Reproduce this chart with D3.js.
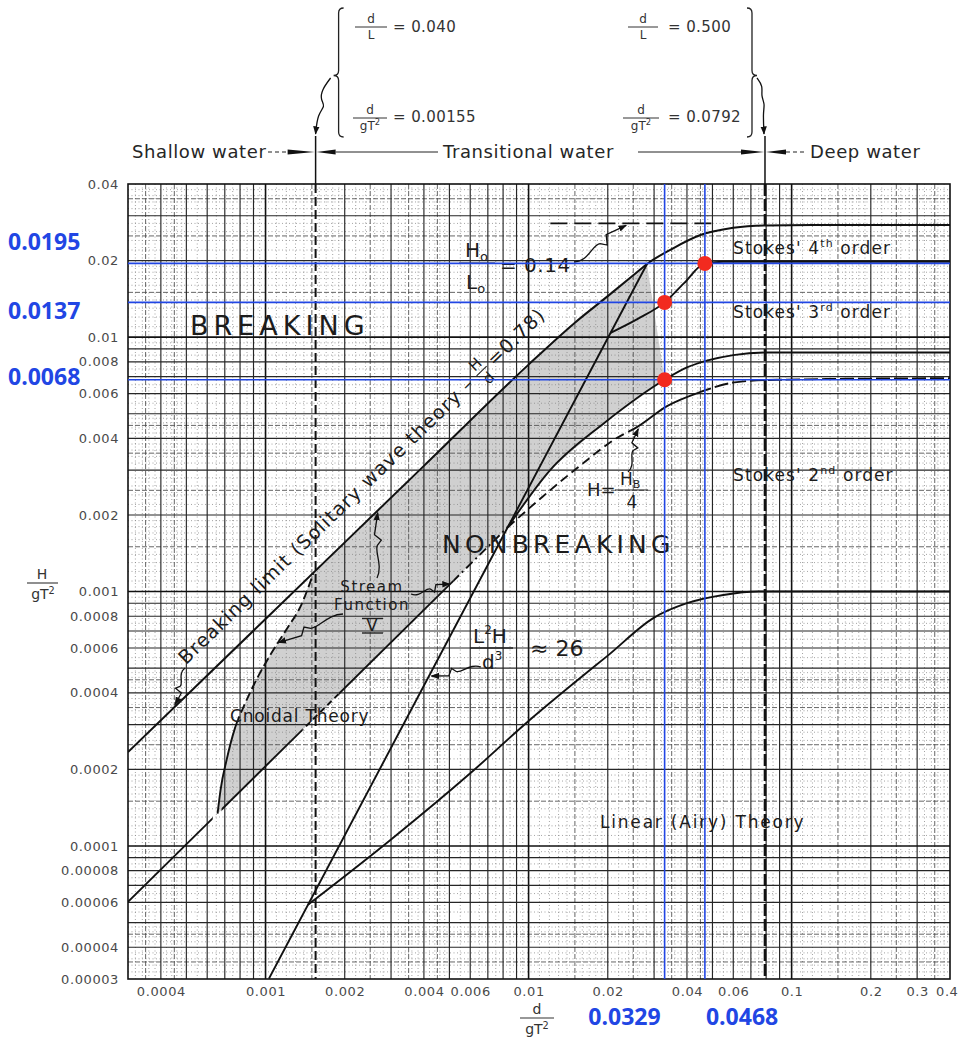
<!DOCTYPE html>
<html>
<head>
<meta charset="utf-8">
<title>Ranges of suitability of various wave theories</title>
<script src="https://cdn.jsdelivr.net/npm/d3@7/dist/d3.min.js"></script>
<style>
  html, body { margin: 0; padding: 0; background: #fff; }
  svg { display: block; }
  text { font-family: "DejaVu Sans", "Liberation Sans", sans-serif; }
</style>
</head>
<body>
<svg id="chart" width="960" height="1041"></svg>
<script>
// ---------- Axis ticks ----------
const xTickValues = [0.0004, 0.001, 0.002, 0.004, 0.006, 0.01, 0.02, 0.04, 0.06, 0.1, 0.2, 0.3, 0.4];
const yTickValues = [0.04, 0.02, 0.01, 0.008, 0.006, 0.004, 0.002, 0.001, 0.0008, 0.0006, 0.0004,
                     0.0002, 0.0001, 0.00008, 0.00006, 0.00004, 0.00003];

// ---------- Depth regimes (d/gT²) ----------
const shallowLimit = 0.00155;
const deepLimit = 0.0792;

// ---------- Boundary curves, points are [d/gT², H/gT²] ----------
const breakingLimit = [
  [0.0003, 0.000234], [0.001, 0.00078], [0.004, 0.00312], [0.01, 0.0078],
  [0.015, 0.0114], [0.02, 0.0145], [0.025, 0.0175], [0.0282, 0.0194],
  [0.035, 0.0222], [0.045, 0.0252], [0.06, 0.0269], [0.08, 0.0275],
  [0.12, 0.0276], [0.4, 0.0276]
];
const steepnessLimit = [[0.0121, 0.028], [0.0525, 0.028]];          // H0/L0 = 0.14
const ursellLine = [[0.00103, 0.0000301], [0.00833, 0.00179], [0.0282, 0.0194]];
const stokes4Lower = [
  [0.0205, 0.0104], [0.026, 0.0118], [0.0329, 0.0137], [0.039, 0.0163],
  [0.0468, 0.0195], [0.055, 0.0198], [0.4, 0.0198]
];
const stokes3Lower = [
  [0.00833, 0.00179], [0.0121, 0.00301], [0.0194, 0.0046], [0.0329, 0.0068],
  [0.04, 0.0076], [0.048, 0.0081], [0.06, 0.0085], [0.08, 0.0087], [0.4, 0.0087]
];
const quarterBreaking = [
  [0.00833, 0.00179], [0.0113, 0.00236], [0.0153, 0.00306], [0.0217, 0.00402],
  [0.0259, 0.00444], [0.0336, 0.00536], [0.0448, 0.00608], [0.0619, 0.00666],
  [0.0878, 0.0068], [0.4, 0.0069]
];
const linearLimit = [
  [0.00145, 0.0000587], [0.003, 0.000106], [0.006, 0.000193], [0.01, 0.00031],
  [0.015, 0.00044], [0.02, 0.00056], [0.03, 0.00079], [0.04, 0.0009],
  [0.055, 0.00097], [0.075, 0.001], [0.4, 0.001]
];
const cnoidalLower = [[0.0003, 0.0000603], [0.00833, 0.00179]];
const cnoidalUpper = [
  [0.000657, 0.000134], [0.000675, 0.000167], [0.000712, 0.000219], [0.000763, 0.000288],
  [0.000833, 0.00036], [0.000925, 0.000452], [0.001045, 0.000566], [0.001201, 0.00071],
  [0.001369, 0.000889], [0.00152, 0.00118]
];

// ---------- Read-off values ----------
const readX = [0.0329, 0.0468];
const readY = [0.0195, 0.0137, 0.0068];
const readPoints = [[0.0468, 0.0195], [0.0329, 0.0137], [0.0329, 0.0068]];

// ---------- Grid multipliers ----------
const majorSteps = [1, 2, 3, 4, 5, 6, 7, 8, 9];
const halfSteps = [1.5, 2.5, 3.5, 4.5];
const fineSteps = [1.1, 1.2, 1.3, 1.4, 1.6, 1.7, 1.8, 1.9, 2.2, 2.4, 2.6, 2.8, 3.2, 3.4, 3.6, 3.8,
                   4.2, 4.4, 4.6, 4.8, 5.5, 6.5, 7.5, 8.5, 9.5];

// ================= drawing =================
const svg = d3.select("#chart");
const defs = svg.append("defs");
const BLUE = "#2146e4";
const INK = "#111";
const TEXT = "#1c1c1c";

const x = d3.scaleLog().domain([0.0003, 0.4]).range([128, 950]);
const y = d3.scaleLog().domain([0.00003, 0.04]).range([979, 184]);
const [plotLeft, plotRight] = x.range();
const [plotBottom, plotTop] = y.range();

svg.append("rect").attr("width", 960).attr("height", 1041).attr("fill", "#fff");

defs.append("clipPath").attr("id", "plot-clip").append("rect")
  .attr("x", plotLeft).attr("y", plotTop).attr("width", plotRight - plotLeft).attr("height", plotBottom - plotTop);

defs.append("marker").attr("id", "arrow").attr("viewBox", "0 0 10 10")
  .attr("refX", 9).attr("refY", 5).attr("markerWidth", 6.5).attr("markerHeight", 6.5)
  .attr("orient", "auto").append("path").attr("d", "M0,1.2 L10,5 L0,8.8 Z").attr("fill", INK);

const line = d3.line().x(d => x(d[0])).y(d => y(d[1])).curve(d3.curveMonotoneX);
const polyLine = d3.line().x(d => x(d[0])).y(d => y(d[1]));

// ---- shaded stream-function region ----
const streamRegion = [
  ...cnoidalUpper,
  ...breakingLimit.filter(p => p[0] > 0.00152 && p[0] <= 0.0282),
  ...stokes3Lower.filter(p => p[0] <= 0.0329).reverse()
];
svg.append("path").attr("d", polyLine(streamRegion) + "Z")
  .attr("fill", "#b0b0b0").attr("fill-opacity", 0.6).attr("clip-path", "url(#plot-clip)");

// ---- log graph-paper grid ----
function gridValues(scale, steps) {
  const [lo, hi] = scale.domain();
  const out = [];
  for (let e = Math.floor(Math.log10(lo)); e <= Math.ceil(Math.log10(hi)); e++) {
    steps.forEach(s => {
      const v = +(s * Math.pow(10, e)).toPrecision(4);
      if (v > lo * 1.001 && v < hi * 0.999) out.push(v);
    });
  }
  return out;
}
const isDecade = v => Math.abs(Math.log10(v) - Math.round(Math.log10(v))) < 1e-6;
const grid = svg.append("g").attr("class", "grid");
function gridLayer(steps, style) {
  grid.selectAll(null).data(gridValues(x, steps)).join("line")
    .attr("x1", d => x(d)).attr("x2", d => x(d)).attr("y1", plotTop).attr("y2", plotBottom)
    .call(style);
  grid.selectAll(null).data(gridValues(y, steps)).join("line")
    .attr("y1", d => y(d)).attr("y2", d => y(d)).attr("x1", plotLeft).attr("x2", plotRight)
    .call(style);
}
gridLayer(fineSteps, s => s.attr("stroke", "#858585").attr("stroke-width", 0.75).attr("stroke-dasharray", "1,2.5"));
gridLayer(halfSteps, s => s.attr("stroke", "#4a4a4a").attr("stroke-width", 0.85).attr("stroke-dasharray", "5,2"));
gridLayer(majorSteps, s => s.attr("stroke", d => isDecade(d) ? "#111" : "#262626")
  .attr("stroke-width", d => isDecade(d) ? 1.6 : 1.15));

svg.append("rect").attr("x", plotLeft).attr("y", plotTop).attr("width", plotRight - plotLeft).attr("height", plotBottom - plotTop)
  .attr("fill", "none").attr("stroke", INK).attr("stroke-width", 1.6);

// ---- regime boundaries ----
[[shallowLimit, "9,4", 2], [deepLimit, "12,3", 2.6]].forEach(([v, dash, w]) => {
  svg.append("line").attr("x1", x(v)).attr("x2", x(v)).attr("y1", plotTop).attr("y2", plotBottom)
    .attr("stroke", INK).attr("stroke-width", w).attr("stroke-dasharray", dash);
});

// ---- curves ----
const curves = svg.append("g").attr("clip-path", "url(#plot-clip)");
let clipCount = 0;
function drawCurve(data, spans, width = 1.9) {
  spans.forEach(s => {
    const id = "span-" + (clipCount++);
    defs.append("clipPath").attr("id", id).append("rect")
      .attr("x", x(s.from)).attr("width", x(s.to) - x(s.from))
      .attr("y", plotTop - 10).attr("height", plotBottom - plotTop + 20);
    curves.append("path").datum(data).attr("d", line)
      .attr("clip-path", `url(#${id})`).attr("fill", "none")
      .attr("stroke", INK).attr("stroke-width", width)
      .attr("stroke-dasharray", s.dash || null);
  });
}
const full = [{ from: 0.0003, to: 0.4 }];
drawCurve(breakingLimit, full, 2);
drawCurve(ursellLine, full);
drawCurve(stokes4Lower, full);
drawCurve(stokes3Lower, full);
drawCurve(linearLimit, full);
drawCurve(quarterBreaking, [
  { from: 0.0083, to: 0.0245, dash: "9,5" },
  { from: 0.0245, to: 0.047 },
  { from: 0.047, to: 0.4, dash: "14,4" }
]);
drawCurve(cnoidalLower, [
  { from: 0.0003, to: 0.00063 },
  { from: 0.00068, to: 0.00138 },
  { from: 0.00138, to: 0.0019, dash: "6,4" },
  { from: 0.0019, to: 0.0052 },
  { from: 0.0052, to: 0.00833, dash: "9,4,2,4" }
]);
drawCurve(cnoidalUpper, [
  { from: 0.00064, to: 0.00078 },
  { from: 0.00078, to: 0.0016, dash: "9,4" }
]);
curves.append("path").datum(steepnessLimit).attr("d", polyLine)
  .attr("fill", "none").attr("stroke", INK).attr("stroke-width", 1.8).attr("stroke-dasharray", "17,7");

// ---- axes ----
const tickStyle = g => g.selectAll("text")
  .attr("font-size", 13).attr("letter-spacing", 0.6).attr("fill", "#4a4a4a")
  .style("font-family", "'DejaVu Sans', sans-serif");
svg.append("g").attr("transform", `translate(${plotLeft},0)`)
  .call(d3.axisLeft(y).tickValues(yTickValues).tickFormat(d => String(d)).tickSize(0).tickPadding(9))
  .call(g => g.select(".domain").remove()).call(tickStyle);
svg.append("g").attr("transform", `translate(0,${plotBottom})`)
  .call(d3.axisBottom(x).tickValues(xTickValues).tickFormat(d => String(d)).tickSize(0).tickPadding(8))
  .call(g => g.select(".domain").remove()).call(tickStyle)
  .call(g => g.selectAll(".tick").filter(d => d === xTickValues[xTickValues.length - 1])
    .select("text").attr("text-anchor", "end").attr("x", 958 - plotRight));

// ---- text helpers ----
const ann = svg.append("g").attr("class", "annotations");
function txt(px, py, str, size, opts = {}) {
  const t = ann.append("text").attr("x", px).attr("y", py).attr("font-size", size)
    .attr("fill", opts.fill || TEXT).text(str);
  if (opts.anchor) t.attr("text-anchor", opts.anchor);
  if (opts.ls != null) t.attr("letter-spacing", opts.ls);
  if (opts.weight) t.attr("font-weight", opts.weight);
  return t;
}
function hline(x1, x2, yy, w = 1.1, color = "#222") {
  ann.append("line").attr("x1", x1).attr("x2", x2).attr("y1", yy).attr("y2", yy)
    .attr("stroke", color).attr("stroke-width", w);
}
const plain = s => t => t.text(s);
const gT2 = t => { t.append("tspan").text("gT"); t.append("tspan").attr("dy", -5).attr("font-size", "0.7em").text("2"); };

function squiggle(x0, y0, x1, y1, amp = 4) {
  const dx = x1 - x0, dy = y1 - y0, len = Math.hypot(dx, dy);
  const nx = -dy / len, ny = dx / len;
  const p = d3.path();
  p.moveTo(x0, y0);
  p.bezierCurveTo(x0 + dx * 0.2 + nx * amp * 2, y0 + dy * 0.2 + ny * amp * 2,
                  x0 + dx * 0.4 - nx * amp, y0 + dy * 0.4 - ny * amp,
                  x0 + dx * 0.5, y0 + dy * 0.5);
  p.lineTo(x0 + dx * 0.58 + nx * amp * 1.3, y0 + dy * 0.58 + ny * amp * 1.3);
  p.lineTo(x0 + dx * 0.66 - nx * amp, y0 + dy * 0.66 - ny * amp);
  p.lineTo(x1, y1);
  ann.append("path").attr("d", p.toString()).attr("fill", "none")
    .attr("stroke", INK).attr("stroke-width", 1.3).attr("marker-end", "url(#arrow)");
}

// ---- region names ----
txt(190, 335, "BREAKING", 27, { ls: 5 });
txt(442, 553, "NONBREAKING", 25, { ls: 4.2 });
function stokes(py, num, sup) {
  const t = txt(733, py, `Stokes' ${num}`, 17, { ls: 1.1 });
  t.append("tspan").attr("dy", -7).attr("font-size", 11).text(sup);
  t.append("tspan").attr("dy", 7).text(" order");
}
stokes(254, "4", "th");
stokes(318, "3", "rd");
stokes(481, "2", "nd");
txt(600, 828, "Linear (Airy) Theory", 17, { ls: 1.8 });
txt(230, 722, "Cnoidal Theory", 17, { ls: 0.8 });
txt(372, 592, "Stream", 15, { anchor: "middle", ls: 1.5 });
txt(372, 610, "Function", 15, { anchor: "middle", ls: 1.5 });
txt(372, 631, "V", 16, { anchor: "middle" });
hline(362, 383, 618.5, 1.4);
hline(362, 383, 633, 1.4);

// stream-function leaders
const streamUp = [0.00267, 0.00208], streamRight = [0.00511, 0.00108], streamLeft = [0.00110, 0.00063];
squiggle(377, 578, x(streamUp[0]), y(streamUp[1]) + 2, 3);
squiggle(411, 594, x(streamRight[0]) - 2, y(streamRight[1]) + 1, 3);
squiggle(343, 614, x(streamLeft[0]) + 2, y(streamLeft[1]), 3);

// ---- breaking-limit text laid along the H/d = 0.78 line ----
const ang = Math.atan2(y(breakingLimit[3][1]) - y(breakingLimit[1][1]),
                       x(breakingLimit[3][0]) - x(breakingLimit[1][0]));
const foot = [0.00057, 0.000445];
const off = 22;
const bx = x(foot[0]) + Math.sin(ang) * off, by = y(foot[1]) - Math.cos(ang) * off;
const bg = ann.append("g").attr("transform", `translate(${bx},${by}) rotate(${ang * 180 / Math.PI})`)
  .attr("fill", TEXT);
const bt = bg.append("text").attr("font-size", 19).attr("letter-spacing", 1.2)
  .text("Breaking limit (Solitary wave theory \u2013");
const bl = bt.node().getComputedTextLength() + 5;
bg.append("text").attr("x", bl + 9).attr("y", -10).attr("font-size", 15).attr("text-anchor", "middle").text("H");
bg.append("line").attr("x1", bl + 2).attr("x2", bl + 16).attr("y1", -6).attr("y2", -6).attr("stroke", "#222").attr("stroke-width", 1.1);
bg.append("text").attr("x", bl + 9).attr("y", 9).attr("font-size", 15).attr("text-anchor", "middle").text("d");
bg.append("text").attr("x", bl + 21).attr("y", 0).attr("font-size", 19).attr("letter-spacing", 1.2).text("=0.78)");
const breakTag = [0.000453, 0.000353];
squiggle(185, 668, x(breakTag[0]), y(breakTag[1]) - 2, 3);

// ---- H0/L0 = 0.14 ----
{
  const h = txt(465, 257, "H", 20); h.append("tspan").attr("font-size", 13).attr("dy", 4).text("o");
  hline(459, 495, 263, 1.2);
  const l = txt(466, 289, "L", 20); l.append("tspan").attr("font-size", 13).attr("dy", 4).text("o");
  txt(500, 272, "= 0.14", 20, { ls: 0.5 });
  squiggle(574, 262, x(0.0235), y(steepnessLimit[0][1]) + 2, 4);
}

// ---- H = HB/4 ----
{
  txt(587, 496, "H=", 18);
  const hb = txt(620, 485, "H", 17); hb.append("tspan").attr("font-size", 11).attr("dy", 3).text("B");
  hline(615, 648, 490, 1.2);
  txt(632, 508, "4", 17, { anchor: "middle" });
  const hbTag = quarterBreaking[4];
  squiggle(628, 472, x(hbTag[0]) + 1, y(hbTag[1]) + 2, 3);
}

// ---- L²H/d³ ≈ 26 ----
{
  const n = txt(473, 643, "L", 20);
  n.append("tspan").attr("font-size", 12).attr("dy", -9).text("2");
  n.append("tspan").attr("dy", 9).text("H");
  hline(470, 513, 648, 1.3);
  const dd = txt(482, 669, "d", 20); dd.append("tspan").attr("font-size", 12).attr("dy", -9).text("3");
  txt(530, 656, "\u2248 26", 22);
  const uTag = [0.0042, 0.00047];
  squiggle(481, 667, x(uTag[0]) + 2, y(uTag[1]) + 1, 3);
}

// ---- axis titles ----
txt(42, 579, "H", 14, { anchor: "middle", fill: "#333" });
hline(27, 58, 583, 1.1, "#333");
txt(43, 599, "", 14, { anchor: "middle", fill: "#333" }).call(gT2);
txt(537, 1014, "d", 14, { anchor: "middle", fill: "#333" });
hline(520, 554, 1018, 1.1, "#333");
txt(537, 1034, "", 14, { anchor: "middle", fill: "#333" }).call(gT2);

// ---- depth-regime header ----
{
  const xs = x(shallowLimit), xd = x(deepLimit), rowY = 152;
  [xs, xd].forEach(v => ann.append("line").attr("x1", v).attr("x2", v).attr("y1", 136).attr("y2", plotTop)
    .attr("stroke", INK).attr("stroke-width", 1.5));
  const arrow = (tip, base) => ann.append("path")
    .attr("d", `M${tip},${rowY} L${base},${rowY - 2.6} L${base},${rowY + 2.6} Z`).attr("fill", INK);
  txt(132, 158, "Shallow water", 18, { ls: 0.6, fill: "#262626" });
  ann.append("line").attr("x1", 268).attr("x2", xs - 28).attr("y1", rowY).attr("y2", rowY)
    .attr("stroke", "#222").attr("stroke-width", 1.2).attr("stroke-dasharray", "4,3");
  arrow(xs - 1, xs - 28); arrow(xs + 1, xs + 20);
  hline(xs + 20, 438, rowY, 1);
  txt(443, 158, "Transitional water", 18, { ls: 0.6, fill: "#262626" });
  hline(638, xd - 24, rowY, 1);
  arrow(xd - 1, xd - 24); arrow(xd + 1, xd + 21);
  ann.append("line").attr("x1", xd + 21).attr("x2", 806).attr("y1", rowY).attr("y2", rowY)
    .attr("stroke", "#222").attr("stroke-width", 1.2).attr("stroke-dasharray", "4,3");
  txt(810, 158, "Deep water", 18, { ls: 0.6, fill: "#262626" });

  // braces with the limit definitions
  const brace = (xb, y0, y1, dir) => {
    const ym = (y0 + y1) / 2 + 3, c = 5, w = 5;
    const p = `M${xb - dir * c},${y0} Q${xb},${y0} ${xb},${y0 + c} L${xb},${ym - c} ` +
              `Q${xb},${ym} ${xb + dir * w},${ym} Q${xb},${ym} ${xb},${ym + c} ` +
              `L${xb},${y1 - c} Q${xb},${y1} ${xb - dir * c},${y1}`;
    ann.append("path").attr("d", p).attr("fill", "none").attr("stroke", "#222").attr("stroke-width", 1.3);
  };
  brace(xs + 23, 8, 137, -1);
  brace(xd - 13, 8, 137, 1);

  const fr = (cx, yT, num, den, half) => {
    txt(cx, yT, "", 12, { anchor: "middle", fill: "#333" }).call(num);
    hline(cx - half, cx + half, yT + 4, 1, "#333");
    txt(cx, yT + 16, "", 12, { anchor: "middle", fill: "#333" }).call(den);
  };
  fr(371, 23, plain("d"), plain("L"), 16);
  txt(393, 32, "= 0.040", 15, { ls: 0.4, fill: "#333" });
  fr(370, 114, plain("d"), gT2, 17);
  txt(393, 122, "= 0.00155", 15, { ls: 0.4, fill: "#333" });
  fr(643, 23, plain("d"), plain("L"), 15);
  txt(668, 32, "= 0.500", 15, { ls: 0.4, fill: "#333" });
  fr(641, 114, plain("d"), gT2, 18);
  txt(668, 122, "= 0.0792", 15, { ls: 0.4, fill: "#333" });

  // leaders from the braces down to the boundary marks
  const lead = (pts) => ann.append("path").attr("d", d3.line().curve(d3.curveBasis)(pts))
    .attr("fill", "none").attr("stroke", INK).attr("stroke-width", 1.3).attr("marker-end", "url(#arrow)");
  lead([[xs + 15, 78], [xs + 6, 90], [xs + 5, 100], [xs + 10, 106], [xs + 2, 114], [xs, 134]]);
  lead([[xd - 8, 78], [xd - 2, 86], [xd - 4, 96], [xd, 104], [xd - 2, 112], [xd - 1, 134]]);
}

// ---- read-off guide lines, values and points ----
const guides = svg.append("g");
guides.selectAll(null).data(readX).join("line")
  .attr("x1", d => x(d)).attr("x2", d => x(d)).attr("y1", plotTop).attr("y2", plotBottom)
  .attr("stroke", BLUE).attr("stroke-width", 1.6);
guides.selectAll(null).data(readY).join("line")
  .attr("y1", d => y(d)).attr("y2", d => y(d)).attr("x1", plotLeft).attr("x2", plotRight)
  .attr("stroke", BLUE).attr("stroke-width", 1.6);
const yLabelShift = [-13, 17, 5];
guides.selectAll(null).data(readY).join("text")
  .attr("x", 8).attr("y", (d, i) => y(d) + yLabelShift[i])
  .attr("font-size", 23).attr("font-weight", 700).attr("fill", BLUE)
  .style("font-family", "'Open Sans', 'DejaVu Sans', sans-serif")
  .text(d => String(d));
guides.selectAll(null).data(readX).join("text")
  .attr("x", (d, i) => i === 0 ? x(d) - 4 : x(d) + 1).attr("y", 1025)
  .attr("text-anchor", (d, i) => i === 0 ? "end" : "start")
  .attr("font-size", 23).attr("font-weight", 700).attr("fill", BLUE)
  .style("font-family", "'Open Sans', 'DejaVu Sans', sans-serif")
  .text(d => String(d));
guides.selectAll(null).data(readPoints).join("circle")
  .attr("cx", d => x(d[0])).attr("cy", d => y(d[1])).attr("r", 7.5)
  .attr("fill", "#f22a1f");
</script>
</body>
</html>
